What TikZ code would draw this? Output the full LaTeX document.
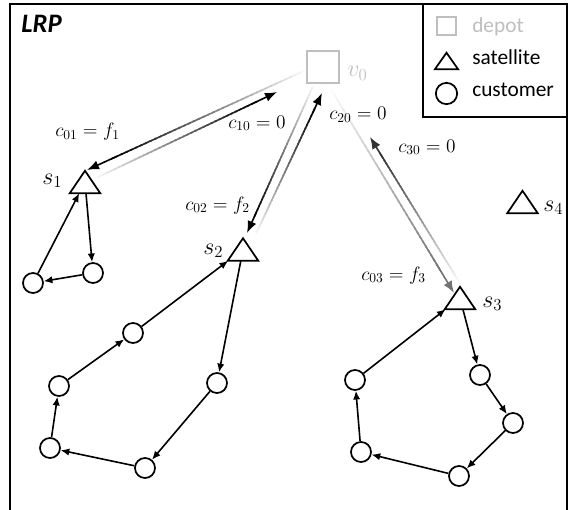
\RequirePackage{fix-cm}
\documentclass[tikz,border=0pt]{standalone}
\usepackage{fontspec}
\newfontfamily\calibri{Carlito}
\usetikzlibrary{arrows.meta,calc}
\definecolor{depotgray}{RGB}{191,191,191}
\newcommand\satdraw[1]{\draw[line width=1.3pt,line join=miter] (#1.north) -- (#1.south east) -- (#1.south west) -- cycle;}
\newcommand\gradarrow[3]{%
  \foreach \k in {0,...,39}{%
    \pgfmathsetmacro\ta{0.88*\k/40}%
    \pgfmathsetmacro\tb{0.88*(\k+1.5)/40}%
    \pgfmathtruncatemacro\pc{#3*(\k+1)/40}%
    \draw[line width=1.2pt,black!\pc!white] ($(#1)!\ta!(#2)$) -- ($(#1)!\tb!(#2)$);
  }%
  \draw[line width=1.2pt,black!#3!white,-{Latex[length=9pt,width=7pt]}] ($(#1)!0.87!(#2)$) -- (#2);
}
\begin{document}
\begin{tikzpicture}[x=0.75pt,y=-0.75pt,
  cust/.style={circle,draw,line width=1.3pt,minimum size=15pt,inner sep=0pt},
  sat/.style={rectangle,minimum width=22.5pt,minimum height=16.5pt,inner sep=0pt},
  route/.style={line width=1.2pt,-{Latex[length=6.5pt,width=5.5pt]}},
  clbl/.style={anchor=base west,inner sep=0pt,font=\fontsize{14.5}{17}\selectfont},
  slbl/.style={anchor=base west,inner sep=0pt,font=\fontsize{18}{21}\selectfont},
  legtxt/.style={anchor=base west,inner sep=0pt,font=\calibri\fontsize{16}{18}\selectfont},
  frame/.style={line width=1.4pt}
]
\clip (0,0) rectangle (568,510);
\useasboundingbox (0,0) rectangle (568,510);
% outer frame
\draw[frame] (10,4) rectangle (567,530);
\node[anchor=base west,inner sep=0pt,font=\calibri\bfseries\itshape\fontsize{20}{22}\selectfont] (title) at (21,33) {LRP};

% legend
\draw[frame,fill=white] (423,4) rectangle (567,117);
\node[draw=depotgray,line width=1.3pt,minimum size=14pt,inner sep=0pt] (legdepot) at (446.5,26) {};
\node[legtxt,text=depotgray] (legdepottxt) at (472,33) {depot};
\node[rectangle,minimum width=17pt,minimum height=12pt,inner sep=0pt] (legsat) at (446.5,61) {};
\satdraw{legsat}
\node[legtxt] (legsattxt) at (472,65) {satellite};
\node[cust,minimum size=16pt] (legcust) at (446.5,93.5) {};
\node[legtxt] (legcusttxt) at (472,97) {customer};

% depot
\node[draw=depotgray,line width=1.3pt,minimum size=23.5pt,inner sep=0pt] (v0) at (323,67) {};
\node[slbl,text=depotgray] (v0lbl) at (347,77) {$v_0$};

% satellites
\node[sat] (s1) at (85,182) {};
\node[sat] (s2) at (243,249.5) {};
\node[sat] (s3) at (460,298) {};
\node[sat] (s4) at (522.5,202) {};
\satdraw{s1}\satdraw{s2}\satdraw{s3}\satdraw{s4}
\node[slbl] (s1lbl) at (42,184) {$s_1$};
\node[slbl] (s2lbl) at (203,254) {$s_2$};
\node[slbl] (s3lbl) at (482,307) {$s_3$};
\node[slbl] (s4lbl) at (543,211) {$s_4$};

% customers
\node[cust] (a1) at (33,283) {};
\node[cust] (a2) at (93,273) {};
\node[cust] (b1) at (133,333) {};
\node[cust] (b2) at (59,386) {};
\node[cust] (b3) at (50,448) {};
\node[cust] (b4) at (145,468) {};
\node[cust] (b5) at (217,383) {};
\node[cust] (d1) at (355,380) {};
\node[cust] (d2) at (480,375) {};
\node[cust] (d3) at (513,423) {};
\node[cust] (d4) at (459,476) {};
\node[cust] (d5) at (361,452) {};

% routes
\draw[route] (s1) -- (a2);
\draw[route] (a2) -- (a1);
\draw[route] (a1) -- (s1);
\draw[route] (s2) -- (b5);
\draw[route] (b5) -- (b4);
\draw[route] (b4) -- (b3);
\draw[route] (b3) -- (b2);
\draw[route] (b2) -- (b1);
\draw[route] (b1) -- (s2);
\draw[route] (s3) -- (d2);
\draw[route] (d2) -- (d3);
\draw[route] (d3) -- (d4);
\draw[route] (d4) -- (d5);
\draw[route] (d5) -- (d1);
\draw[route] (d1) -- (s3);

% depot-satellite links
\coordinate (o1s) at (306,70);  \coordinate (o1e) at (87,170);
\coordinate (i1s) at (94,179);  \coordinate (i1e) at (277,92);
\coordinate (o2s) at (314,84);  \coordinate (o2e) at (247,233);
\coordinate (i2s) at (255,236); \coordinate (i2e) at (322,93);
\coordinate (o3s) at (329,86);  \coordinate (o3e) at (454,293);
\coordinate (i3s) at (461,285); \coordinate (i3e) at (370,137);
\gradarrow{o1s}{o1e}{100}
\gradarrow{i1s}{i1e}{100}
\gradarrow{o2s}{o2e}{100}
\gradarrow{i2s}{i2e}{100}
\gradarrow{o3s}{o3e}{55}
\gradarrow{i3s}{i3e}{80}

% cost labels
\node[clbl] (c01) at (55,137) {$c_{01}=f_1$};
\node[clbl] (c10) at (228,128) {$c_{10}=0$};
\node[clbl] (c20) at (329,120) {$c_{20}=0$};
\node[clbl] (c30) at (398,152) {$c_{30}=0$};
\node[clbl] (c02) at (185,210) {$c_{02}=f_2$};
\node[clbl] (c03) at (361,280) {$c_{03}=f_3$};
\end{tikzpicture}
\end{document}
